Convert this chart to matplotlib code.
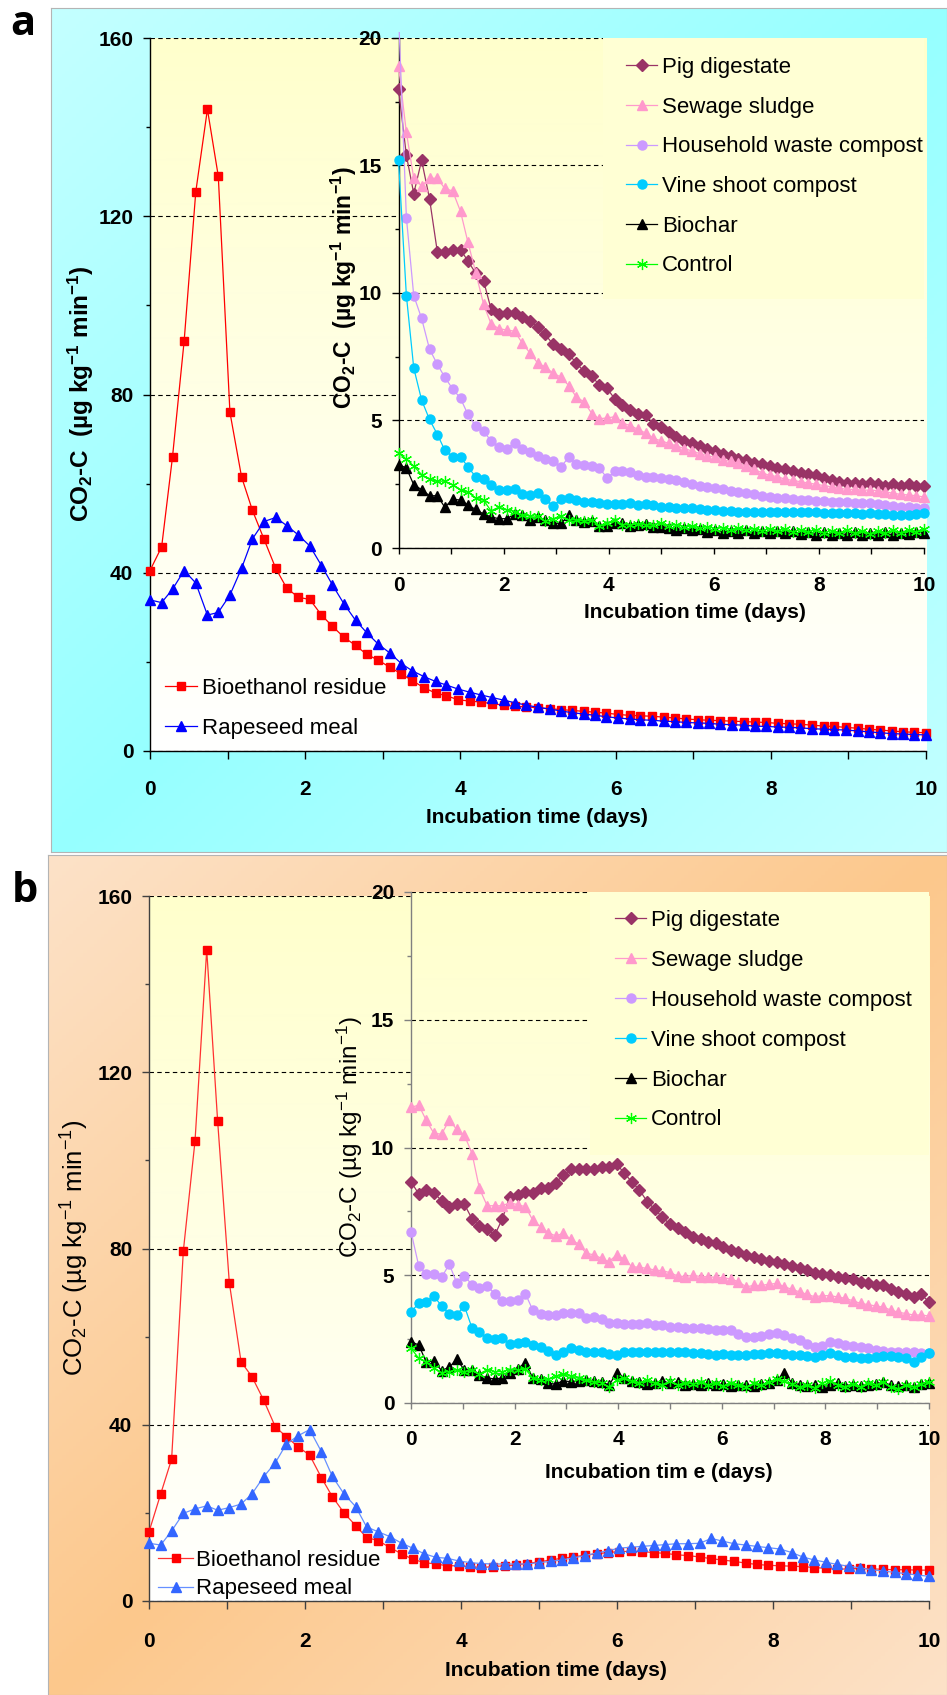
import numpy as np
import matplotlib
matplotlib.use("Agg")
import matplotlib.pyplot as plt
from matplotlib.font_manager import FontProperties
from matplotlib.patches import Rectangle

# sampling times (days)
time_days = [0.00, 0.15, 0.29, 0.44, 0.59, 0.74, 0.88, 1.03, 1.18, 1.32,
             1.47, 1.62, 1.76, 1.91, 2.06, 2.21, 2.35, 2.50, 2.65, 2.79,
             2.94, 3.09, 3.24, 3.38, 3.53, 3.68, 3.82, 3.97, 4.12, 4.26,
             4.41, 4.56, 4.71, 4.85, 5.00, 5.15, 5.29, 5.44, 5.59, 5.74,
             5.88, 6.03, 6.18, 6.32, 6.47, 6.62, 6.76, 6.91, 7.06, 7.21,
             7.35, 7.50, 7.65, 7.79, 7.94, 8.09, 8.24, 8.38, 8.53, 8.68,
             8.82, 8.97, 9.12, 9.26, 9.41, 9.56, 9.71, 9.85, 10.00]

# ---- panel a, main plot ----
bioethanol_a = [40.5, 45.8, 66.0, 92.0, 125.5, 144.0, 129.0, 76.0, 61.5, 54.0,
                47.5, 41.0, 36.6, 34.5, 34.0, 30.5, 28.0, 25.5, 23.7, 21.7,
                20.4, 18.8, 17.3, 15.8, 14.2, 13.0, 12.4, 11.5, 11.2, 11.0,
                10.6, 10.3, 10.0, 9.9, 9.7, 9.5, 9.3, 9.1, 8.9, 8.7,
                8.5, 8.2, 8.0, 7.9, 7.8, 7.6, 7.4, 7.2, 7.0, 6.9,
                6.8, 6.7, 6.6, 6.5, 6.4, 6.2, 6.1, 6.0, 5.8, 5.6,
                5.5, 5.3, 5.1, 4.9, 4.7, 4.5, 4.3, 4.2, 4.1]
rapeseed_a = [33.9, 33.3, 36.3, 40.5, 37.7, 30.5, 31.1, 35.0, 41.0, 47.6,
              51.5, 52.4, 50.6, 48.5, 46.0, 41.6, 37.3, 33.0, 29.3, 26.6,
              24.0, 22.0, 19.6, 18.0, 16.7, 15.6, 14.8, 13.9, 13.2, 12.6,
              12.0, 11.4, 10.8, 10.3, 9.8, 9.4, 9.0, 8.6, 8.3, 8.0,
              7.7, 7.4, 7.2, 7.0, 6.9, 6.7, 6.6, 6.4, 6.3, 6.2,
              6.0, 5.9, 5.8, 5.6, 5.5, 5.4, 5.3, 5.2, 5.0, 4.9,
              4.8, 4.7, 4.5, 4.3, 4.1, 3.9, 3.8, 3.7, 3.6]

# ---- panel a, inset ----
pig_a = [18.0, 15.4, 13.9, 15.2, 13.7, 11.6, 11.6, 11.7, 11.7, 11.26,
         10.77, 10.47, 9.38, 9.18, 9.2, 9.2, 9.07, 8.91, 8.67, 8.38,
         7.99, 7.82, 7.62, 7.25, 6.93, 6.73, 6.4, 6.26, 5.83, 5.6,
         5.4, 5.27, 5.2, 4.87, 4.75, 4.55, 4.35, 4.2, 4.1, 4.0,
         3.9, 3.8, 3.7, 3.6, 3.5, 3.45, 3.35, 3.3, 3.2, 3.15,
         3.1, 3.0, 2.95, 2.9, 2.85, 2.75, 2.65, 2.6, 2.55, 2.55,
         2.5, 2.55, 2.5, 2.45, 2.5, 2.45, 2.5, 2.45, 2.45]
sewage_a = [18.9, 16.3, 14.5, 14.2, 14.5, 14.5, 14.1, 14.0, 13.2, 12.0,
            10.8, 9.55, 8.8, 8.6, 8.55, 8.5, 8.05, 7.65, 7.25, 7.1,
            6.86, 6.7, 6.37, 5.93, 5.73, 5.27, 5.07, 5.1, 5.15, 4.9,
            4.8, 4.65, 4.5, 4.3, 4.2, 4.1, 4.0, 3.9, 3.8, 3.7,
            3.62, 3.55, 3.45, 3.4, 3.33, 3.2, 3.1, 2.95, 2.85, 2.8,
            2.7, 2.65, 2.6, 2.55, 2.5, 2.45, 2.4, 2.35, 2.3, 2.3,
            2.27, 2.27, 2.25, 2.2, 2.15, 2.1, 2.08, 2.05, 2.0]
household_a = [21.0, 12.96, 9.9, 9.0, 7.8, 7.2, 6.7, 6.24, 5.87, 5.24,
               4.78, 4.57, 4.21, 3.97, 3.9, 4.12, 3.9, 3.75, 3.6, 3.5,
               3.41, 3.19, 3.55, 3.3, 3.26, 3.2, 3.13, 2.75, 3.0, 3.0,
               2.98, 2.85, 2.8, 2.8, 2.75, 2.7, 2.67, 2.6, 2.5, 2.45,
               2.4, 2.35, 2.3, 2.25, 2.2, 2.15, 2.1, 2.05, 2.0, 1.98,
               1.95, 1.92, 1.9, 1.88, 1.86, 1.84, 1.82, 1.82, 1.8, 1.78,
               1.76, 1.75, 1.72, 1.7, 1.66, 1.62, 1.6, 1.57, 1.55]
vine_a = [15.2, 9.9, 7.06, 5.8, 5.04, 4.45, 3.84, 3.58, 3.58, 3.18,
          2.79, 2.71, 2.48, 2.26, 2.28, 2.3, 2.12, 2.07, 2.14, 1.91,
          1.65, 1.91, 1.97, 1.88, 1.82, 1.8, 1.77, 1.73, 1.74, 1.74,
          1.75, 1.69, 1.72, 1.67, 1.62, 1.6, 1.58, 1.55, 1.55, 1.52,
          1.5, 1.48, 1.46, 1.44, 1.42, 1.42, 1.43, 1.41, 1.42, 1.4,
          1.42, 1.4, 1.42, 1.41, 1.4, 1.39, 1.37, 1.38, 1.36, 1.37,
          1.35, 1.36, 1.34, 1.32, 1.3, 1.3, 1.28, 1.32, 1.36]
biochar_a = [3.27, 3.14, 2.48, 2.29, 2.05, 2.05, 1.6, 1.91, 1.88, 1.69,
             1.51, 1.33, 1.22, 1.15, 1.15, 1.33, 1.28, 1.1, 1.22, 1.1,
             0.97, 0.97, 1.28, 1.08, 1.02, 1.05, 0.86, 0.86, 0.97, 0.97,
             0.86, 0.9, 0.93, 0.83, 0.84, 0.8, 0.72, 0.78, 0.7, 0.74,
             0.64, 0.72, 0.6, 0.68, 0.58, 0.7, 0.6, 0.66, 0.57, 0.65,
             0.58, 0.68, 0.55, 0.62, 0.52, 0.62, 0.5, 0.6, 0.52, 0.62,
             0.5, 0.6, 0.52, 0.62, 0.5, 0.6, 0.55, 0.62, 0.6]
control_a = [3.73, 3.48, 3.21, 2.88, 2.69, 2.62, 2.62, 2.48, 2.29, 2.2,
             1.96, 1.87, 1.46, 1.6, 1.5, 1.43, 1.3, 1.25, 1.25, 1.05,
             1.15, 1.25, 1.1, 1.1, 1.05, 1.08, 0.88, 0.98, 1.1, 0.92,
             0.9, 0.95, 0.9, 0.9, 0.98, 0.88, 0.92, 0.82, 0.86, 0.78,
             0.84, 0.76, 0.8, 0.72, 0.78, 0.7, 0.76, 0.68, 0.75, 0.66,
             0.74, 0.64, 0.72, 0.64, 0.7, 0.6, 0.68, 0.58, 0.7, 0.58,
             0.68, 0.56, 0.68, 0.58, 0.7, 0.6, 0.72, 0.64, 0.75]

# ---- panel b, main plot ----
bioethanol_b = [15.7, 24.3, 32.2, 79.4, 104.4, 147.8, 108.9, 72.2, 54.3, 50.9,
                45.6, 39.5, 37.3, 35.0, 33.1, 28.0, 23.7, 20.0, 17.1, 14.4,
                13.7, 12.1, 10.7, 9.5, 8.7, 8.4, 8.0, 8.0, 7.8, 7.6,
                7.8, 8.0, 8.2, 8.5, 8.9, 9.3, 9.7, 10.0, 10.4, 10.7,
                11.0, 11.2, 11.3, 11.2, 11.0, 10.8, 10.5, 10.3, 10.0, 9.6,
                9.3, 9.0, 8.6, 8.3, 8.1, 8.0, 7.9, 7.8, 7.6, 7.4,
                7.2, 7.3, 7.4, 7.3, 7.2, 7.1, 7.1, 7.0, 7.0]
rapeseed_b = [13.1, 12.7, 15.9, 19.9, 20.9, 21.6, 20.6, 21.2, 22.0, 24.3,
              28.2, 31.4, 35.6, 37.5, 38.9, 33.9, 28.3, 24.3, 21.4, 16.8,
              15.7, 14.6, 13.1, 12.0, 10.7, 9.9, 9.7, 9.1, 8.7, 8.5,
              8.4, 8.4, 8.4, 8.4, 8.7, 9.0, 9.3, 9.8, 10.3, 10.9,
              11.4, 12.0, 12.2, 12.4, 12.6, 12.8, 13.0, 13.0, 13.1, 14.2,
              13.6, 13.0, 12.7, 12.4, 12.1, 11.8, 11.0, 10.0, 9.3, 8.8,
              8.3, 7.9, 7.5, 7.1, 6.8, 6.5, 6.2, 5.9, 5.6]

# ---- panel b, inset ----
pig_b = [8.66, 8.18, 8.34, 8.23, 7.92, 7.68, 7.78, 7.78, 7.2, 6.94,
         6.8, 6.58, 7.2, 8.07, 8.15, 8.27, 8.2, 8.4, 8.4, 8.62,
         8.92, 9.14, 9.14, 9.14, 9.14, 9.25, 9.25, 9.35, 8.99, 8.66,
         8.34, 7.88, 7.58, 7.27, 7.0, 6.85, 6.68, 6.51, 6.4, 6.3,
         6.25, 6.1, 5.99, 5.9, 5.8, 5.7, 5.62, 5.55, 5.5, 5.45,
         5.35, 5.27, 5.2, 5.1, 5.05, 5.0, 4.95, 4.9, 4.85, 4.75,
         4.68, 4.62, 4.6, 4.45, 4.36, 4.25, 4.16, 4.25, 3.96]
sewage_b = [11.57, 11.66, 11.08, 10.56, 10.52, 11.08, 10.71, 10.49, 9.75, 8.4,
            7.72, 7.72, 7.72, 7.84, 7.76, 7.68, 7.16, 6.9, 6.67, 6.54,
            6.64, 6.4, 6.21, 5.86, 5.8, 5.66, 5.53, 5.8, 5.63, 5.34,
            5.31, 5.27, 5.2, 5.18, 5.1, 4.97, 4.95, 5.0, 4.95, 4.94,
            4.92, 4.9, 4.85, 4.75, 4.55, 4.6, 4.6, 4.65, 4.68, 4.55,
            4.45, 4.35, 4.25, 4.16, 4.2, 4.2, 4.15, 4.1, 4.0, 3.9,
            3.85, 3.8, 3.75, 3.64, 3.55, 3.5, 3.44, 3.45, 3.4]
household_b = [6.71, 5.36, 5.05, 5.03, 4.92, 5.43, 4.71, 4.98, 4.62, 4.49,
               4.58, 4.27, 4.0, 4.0, 4.05, 4.27, 3.64, 3.48, 3.45, 3.45,
               3.51, 3.51, 3.51, 3.31, 3.35, 3.27, 3.12, 3.14, 3.1, 3.1,
               3.1, 3.14, 3.07, 3.07, 2.99, 2.97, 2.94, 2.94, 2.92, 2.9,
               2.86, 2.86, 2.84, 2.7, 2.6, 2.6, 2.62, 2.7, 2.73, 2.65,
               2.54, 2.45, 2.3, 2.2, 2.25, 2.4, 2.35, 2.27, 2.25, 2.2,
               2.15, 2.07, 2.05, 2.01, 2.0, 2.0, 1.98, 1.96, 1.94]
vine_b = [3.57, 3.9, 3.97, 4.19, 3.8, 3.48, 3.45, 3.8, 2.92, 2.79,
          2.53, 2.49, 2.53, 2.31, 2.36, 2.4, 2.27, 2.18, 2.05, 1.88,
          2.0, 2.14, 2.07, 2.0, 2.0, 1.98, 1.92, 1.88, 2.0, 2.0,
          1.98, 1.98, 2.0, 1.98, 1.98, 1.98, 1.98, 1.94, 1.94, 1.92,
          1.88, 1.9, 1.88, 1.86, 1.88, 1.9, 1.92, 1.96, 1.96, 1.9,
          1.88, 1.86, 1.84, 1.81, 1.86, 1.94, 1.88, 1.81, 1.8, 1.75,
          1.78, 1.81, 1.85, 1.84, 1.8, 1.75, 1.62, 1.8, 1.94]
biochar_b = [2.4, 2.27, 1.62, 1.64, 1.27, 1.4, 1.71, 1.3, 1.3, 1.1,
             0.98, 0.94, 0.98, 1.17, 1.35, 1.58, 0.98, 0.94, 0.77, 0.74,
             0.87, 0.83, 0.87, 0.9, 0.88, 0.83, 0.7, 1.16, 0.98, 0.87,
             0.83, 0.74, 0.77, 0.87, 0.77, 0.83, 0.7, 0.74, 0.72, 0.78,
             0.7, 0.75, 0.68, 0.72, 0.7, 0.66, 0.74, 0.78, 0.9, 1.16,
             0.8, 0.72, 0.66, 0.7, 0.64, 0.72, 0.8, 0.68, 0.72, 0.66,
             0.7, 0.74, 0.82, 0.7, 0.66, 0.72, 0.64, 0.74, 0.8]
control_b = [2.14, 1.75, 1.62, 1.36, 1.19, 1.23, 1.3, 1.23, 1.3, 1.14,
             1.3, 1.23, 1.23, 1.3, 1.3, 1.32, 0.98, 0.9, 0.94, 1.04,
             1.14, 1.05, 0.98, 0.9, 0.82, 0.8, 0.61, 0.9, 0.98, 0.85,
             0.8, 0.9, 0.78, 0.72, 0.85, 0.7, 0.8, 0.74, 0.82, 0.7,
             0.78, 0.66, 0.8, 0.72, 0.62, 0.78, 0.7, 0.84, 0.92, 0.85,
             0.74, 0.62, 0.7, 0.6, 0.78, 0.88, 0.72, 0.64, 0.76, 0.62,
             0.8, 0.7, 0.84, 0.64, 0.56, 0.72, 0.62, 0.76, 0.82]

main_labels = ["Bioethanol residue", "Rapeseed meal"]
inset_labels = ["Pig digestate", "Sewage sludge", "Household waste compost",
                "Vine shoot compost", "Biochar", "Control"]

# ---------------------------------------------------------------
W, H = 947, 1695
fig = plt.figure(figsize=(W / 100, H / 100), dpi=100)

SANS = "Liberation Sans"
plt.rcParams["mathtext.default"] = "regular"


def rect(l, t, r, b):
    return [l / W, 1 - b / H, (r - l) / W, (b - t) / H]


def panel_bg(box, light, dark):
    ax = fig.add_axes(rect(*box), zorder=0)
    u, v = np.meshgrid(np.linspace(0, 1, 256), np.linspace(0, 1, 256))
    s = (1 - np.abs(u + v - 1))[..., None]
    img = (np.array(light) * (1 - s) + np.array(dark) * s) / 255
    ax.imshow(img, extent=(0, 1, 0, 1), aspect="auto", origin="upper")
    ax.set_xticks([])
    ax.set_yticks([])
    for sp in ax.spines.values():
        sp.set_edgecolor("#B4B4B4")
    return ax


def area_bg(box, top, bottom, z):
    ax = fig.add_axes(rect(*box), zorder=z)
    v = np.linspace(0, 1, 256)[:, None, None]
    img = (np.array(top) * (1 - v) + np.array(bottom) * v) / 255
    img = np.repeat(img, 2, axis=1)
    ax.imshow(img, extent=(0, 1, 0, 1), aspect="auto", origin="upper")
    ax.set_axis_off()


tick_fp = FontProperties(family=SANS, weight="bold", size=15)
leg_fp = FontProperties(family=SANS, size=16)


def style(ax, ymax, ymaj, ymin, spc, xlen, xpad):
    ax.patch.set_visible(False)
    ax.set_xlim(0, 10)
    ax.set_ylim(0, ymax)
    ax.set_xticks([0, 2, 4, 6, 8, 10])
    ax.set_xticks(range(11), minor=True)
    ax.set_yticks(np.arange(0, ymax + 1, ymaj))
    ax.set_yticks(np.arange(0, ymax + 1, ymin), minor=True)
    for s in ["top", "right"]:
        ax.spines[s].set_visible(False)
    for s in ["left", "bottom"]:
        ax.spines[s].set_color(spc)
        ax.spines[s].set_linewidth(1)
    ax.tick_params(axis="x", which="both", direction="out", length=xlen, width=1,
                   color=spc, pad=xpad)
    ax.tick_params(axis="y", which="major", direction="out", length=5, width=1,
                   color=spc, pad=7)
    ax.tick_params(axis="y", which="minor", direction="out", length=3, width=1, color=spc)
    ax.yaxis.grid(True, which="major", color="black", lw=0.8, linestyle=(0, (4, 3)))
    for lab in ax.get_xticklabels() + ax.get_yticklabels():
        lab.set_fontproperties(tick_fp)


def draw(ax, y, color, marker, ms, lw=0.9, mew=1.0, line_color=None):
    return ax.plot(time_days, y, color=line_color or color, lw=lw, marker=marker, ms=ms,
                   mfc=color, mec=color, mew=mew, clip_on=False, zorder=3)[0]


def inset_series(ax, data):
    styles = [("#993366", "D", 5.8), ("#FF99CC", "^", 7.5), ("#CC99FF", "o", 6.5),
              ("#00CCFF", "o", 6.5), ("#000000", "^", 6.5), ("#00FF00", (6, 2, 0), 8)]
    lines = []
    for y, (c, m, ms) in zip(data, styles):
        lines.append(draw(ax, y, c, m, ms, mew=0.9 if m == (6, 2, 0) else 1.0))
    return lines


def legend(ax, handles, labels, x, y, bp, hl, htp, ls, frame):
    leg = ax.legend(handles, labels, loc="upper left", bbox_to_anchor=(x / W, 1 - y / H),
                    bbox_transform=fig.transFigure, prop=leg_fp, frameon=frame,
                    fancybox=False, facecolor="#FFFFD4", edgecolor="none", framealpha=1,
                    borderpad=bp, borderaxespad=0, handlelength=hl, handletextpad=htp,
                    labelspacing=ls, numpoints=1)
    leg.legendPatch.set_clip_box(ax.bbox)
    return leg


ylab = r"CO$_2$-C  (µg kg$^{-1}$ min$^{-1}$)"
ylab_b = r"CO$_2$-C (µg kg$^{-1}$ min$^{-1}$)"
xl_fp = FontProperties(family=SANS, weight="bold", size=15)

# ================= panel a =================
panel_bg((51, 8, 947, 852), (196, 255, 255), (150, 255, 255))
area_bg((150, 38, 926, 751), (255, 255, 204), (255, 255, 255), 1)
ax_a = fig.add_axes(rect(150, 38, 926, 751), zorder=2)
style(ax_a, 160, 40, 20, "black", 6, 15)
ma = [draw(ax_a, bioethanol_a, "#FF0000", "s", 6.2),
      draw(ax_a, rapeseed_a, "#0000FF", "^", 7)]
legend(ax_a, ma, main_labels, 165, 678, 0, 1.44, 0.225, 0.84, False)

area_bg((398.5, 38, 924, 548), (255, 255, 204), (255, 255, 242), 3)
ax_ia = fig.add_axes(rect(398.5, 38, 924, 548), zorder=4)
style(ax_ia, 20, 5, 2.5, "black", 4.5, 16)
la = inset_series(ax_ia, [pig_a, sewage_a, household_a, vine_a, biochar_a, control_a])
la[2].set_clip_on(True)
la[2].set_clip_path(Rectangle((-0.05, -0.06), 1.1, 1.072, transform=ax_ia.transAxes))
legend(ax_ia, la, inset_labels, 603, 34, 1.035, 1.4, 0.225, 0.84, True)

fig.text(537 / W, 1 - 818 / H, "Incubation time (days)", fontproperties=xl_fp, ha="center", va="center")
fig.text(695 / W, 1 - 613 / H, "Incubation time (days)", fontproperties=xl_fp, ha="center", va="center")
fig.text(81 / W, 1 - 394 / H, ylab, fontproperties=FontProperties(family=SANS, weight="bold", size=17.5),
         rotation=90, ha="center", va="center")
fig.text(344 / W, 1 - 288 / H, ylab, fontproperties=FontProperties(family=SANS, weight="bold", size=16.5),
         rotation=90, ha="center", va="center", zorder=5)
fig.text(10 / W, 1 - 35 / H, "a", family="Open Sans", weight="bold", size=30, ha="left", va="baseline")

# ================= panel b =================
panel_bg((48, 855, 947, 1695), (253, 226, 200), (252, 200, 140))
area_bg((149, 896, 929, 1601), (255, 255, 204), (255, 255, 255), 1)
ax_b = fig.add_axes(rect(149, 896, 929, 1601), zorder=2)
style(ax_b, 160, 40, 20, "#404040", 6, 16)
mb = [draw(ax_b, bioethanol_b, "#FF0000", "s", 6.2, line_color="#FF3030"),
      draw(ax_b, rapeseed_b, "#3366FF", "^", 7, line_color="#6690FF")]
legend(ax_b, mb, main_labels, 158, 1550, 0, 1.575, 0.135, 0.33, False)

area_bg((411, 892, 929, 1403), (255, 255, 204), (255, 255, 242), 3)
ax_ib = fig.add_axes(rect(411, 892, 929, 1403), zorder=4)
style(ax_ib, 20, 5, 2.5, "#808080", 4.5, 15)
lb = inset_series(ax_ib, [pig_b, sewage_b, household_b, vine_b, biochar_b, control_b])
legend(ax_ib, lb, inset_labels, 590, 885, 1.125, 1.4, 0.225, 0.85, True)

fig.text(556 / W, 1 - 1670 / H, "Incubation time (days)", fontproperties=xl_fp, ha="center", va="center")
fig.text(659 / W, 1 - 1473 / H, "Incubation tim e (days)", fontproperties=xl_fp, ha="center", va="center")
fig.text(75 / W, 1 - 1248 / H, ylab_b, fontproperties=FontProperties(family=SANS, size=18.5),
         rotation=90, ha="center", va="center")
fig.text(350 / W, 1 - 1137 / H, ylab_b, fontproperties=FontProperties(family=SANS, size=17.5),
         rotation=90, ha="center", va="center", zorder=5)
fig.text(12 / W, 1 - 902 / H, "b", family="Open Sans", weight="bold", size=30, ha="left", va="baseline")

fig.savefig("out.png", dpi=100)
